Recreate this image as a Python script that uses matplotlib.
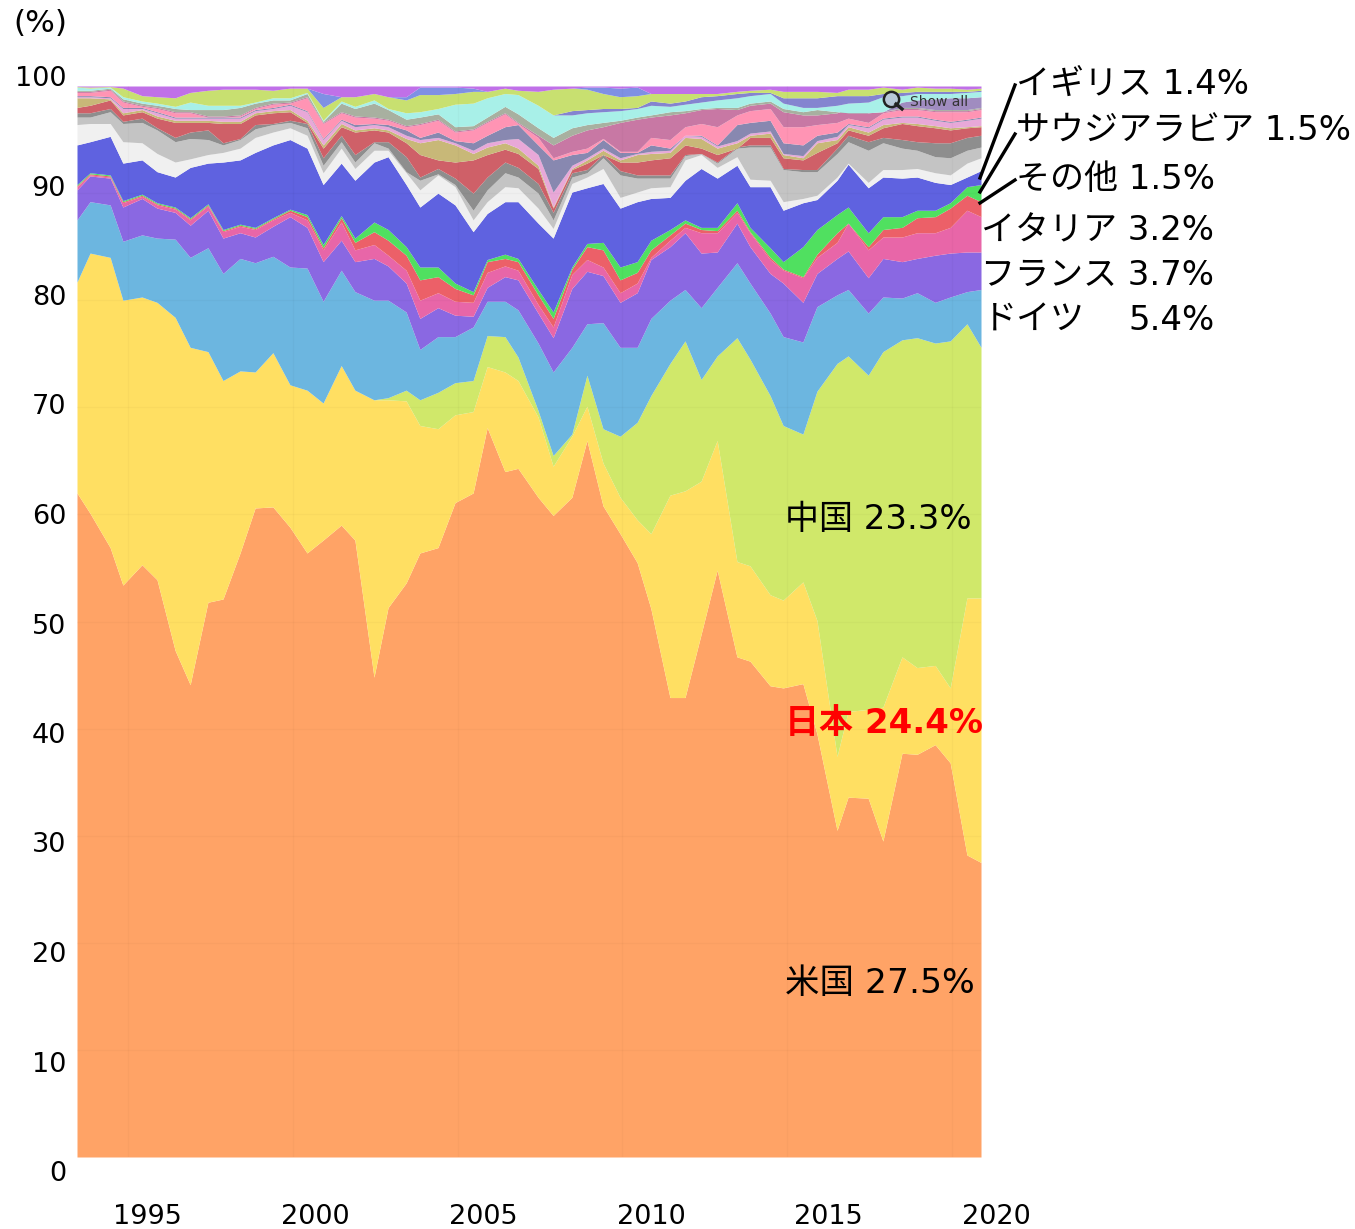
import matplotlib
matplotlib.use('Agg')
import matplotlib.pyplot as plt
from matplotlib.lines import Line2D

plt.rcParams['font.family'] = ['DejaVu Sans', 'Noto Sans CJK JP']

W, H = 1355, 1229

years = [1993.00, 1993.39, 1993.99, 1994.37, 1994.94, 1995.39, 1995.93, 1996.38, 1996.91, 1997.36,
         1997.87, 1998.32, 1998.85, 1999.36, 1999.87, 2000.35, 2000.89, 2001.30, 2001.87, 2002.29,
         2002.83, 2003.24, 2003.78, 2004.29, 2004.83, 2005.25, 2005.78, 2006.17, 2006.77, 2007.22,
         2007.78, 2008.23, 2008.71, 2009.22, 2009.73, 2010.14, 2010.71, 2011.16, 2011.64, 2012.12,
         2012.71, 2013.10, 2013.70, 2014.09, 2014.68, 2015.10, 2015.70, 2016.03, 2016.63, 2017.07,
         2017.64, 2018.09, 2018.63, 2019.08, 2019.58, 2020.00]

# Cumulative share (%) at the top of each band
usa = [62.0, 60.1, 56.9, 53.4, 55.3, 53.9, 47.3, 44.1, 51.8, 52.1,
       56.4, 60.6, 60.7, 58.8, 56.4, 57.6, 59.0, 57.6, 44.8, 51.3,
       53.6, 56.4, 56.9, 61.1, 62.0, 68.1, 64.0, 64.3, 61.6, 59.9,
       61.6, 66.9, 60.8, 58.2, 55.5, 51.2, 42.9, 42.9, 48.8, 54.8,
       46.7, 46.3, 44.0, 43.8, 44.2, 39.5, 30.5, 33.6, 33.5, 29.5,
       37.7, 37.6, 38.5, 36.8, 28.2, 27.5]
japan = [81.7, 84.4, 84.0, 80.0, 80.3, 79.8, 78.4, 75.6, 75.2, 72.5,
         73.4, 73.3, 75.1, 72.1, 71.6, 70.4, 73.9, 71.6, 70.7, 70.7,
         70.6, 68.3, 68.0, 69.3, 69.6, 73.8, 73.3, 72.5, 69.1, 64.5,
         67.3, 70.1, 64.8, 61.6, 59.5, 58.2, 61.8, 62.2, 63.1, 66.9,
         55.6, 55.2, 52.5, 52.0, 53.7, 50.1, 37.4, 41.6, 41.8, 42.0,
         46.7, 45.7, 45.9, 43.8, 52.2, 52.2]
china = [81.7, 84.4, 84.0, 80.0, 80.3, 79.8, 78.4, 75.6, 75.2, 72.5,
         73.4, 73.3, 75.1, 72.1, 71.6, 70.4, 73.9, 71.6, 70.7, 70.9,
         71.6, 70.7, 71.4, 72.3, 72.5, 76.7, 76.6, 74.7, 69.7, 65.5,
         67.5, 73.0, 68.0, 67.3, 68.6, 71.1, 74.1, 76.2, 72.6, 74.8,
         76.5, 74.5, 71.1, 68.3, 67.5, 71.5, 74.1, 74.8, 73.0, 75.2,
         76.3, 76.5, 76.0, 76.2, 77.8, 75.6]
germany = [87.5, 89.2, 88.9, 85.5, 86.1, 85.8, 85.7, 84.0, 84.9, 82.5,
           83.9, 83.5, 84.1, 83.1, 83.0, 79.9, 82.8, 80.8, 80.0, 80.0,
           78.9, 75.4, 76.6, 76.6, 77.5, 79.9, 79.9, 79.1, 76.0, 73.3,
           75.6, 77.8, 77.9, 75.6, 75.6, 78.3, 80.0, 81.0, 79.3, 81.2,
           83.5, 81.6, 78.8, 76.6, 76.1, 79.4, 80.5, 81.0, 78.8, 80.3,
           80.2, 80.7, 79.8, 80.3, 80.8, 81.0]
france = [90.3, 91.6, 91.4, 88.7, 89.5, 88.6, 88.2, 87.0, 88.4, 85.8,
          86.3, 85.9, 86.9, 87.8, 86.8, 83.6, 85.6, 83.6, 83.9, 83.2,
          81.6, 78.3, 79.3, 78.6, 78.5, 81.2, 82.2, 81.9, 78.8, 76.5,
          81.1, 82.7, 82.3, 79.8, 80.7, 83.8, 85.0, 86.3, 84.4, 84.5,
          87.2, 85.0, 82.5, 81.6, 79.8, 82.5, 83.9, 84.6, 82.1, 83.9,
          83.6, 83.9, 84.2, 84.4, 84.5, 84.5]
italy = [90.6, 91.7, 91.5, 89.1, 89.7, 88.9, 88.5, 87.5, 88.8, 86.4,
         86.9, 86.6, 87.5, 88.2, 87.5, 84.7, 87.3, 84.7, 85.2, 84.2,
         82.8, 80.0, 80.7, 79.9, 79.8, 82.6, 83.2, 82.8, 79.6, 77.5,
         82.4, 83.8, 83.1, 80.7, 81.6, 84.0, 85.6, 86.8, 86.3, 86.3,
         88.2, 86.3, 83.8, 82.8, 82.1, 84.0, 85.4, 87.2, 84.7, 85.9,
         85.9, 86.3, 86.3, 86.8, 88.4, 87.8]
red_band = [90.7, 91.8, 91.6, 89.2, 89.8, 89.0, 88.6, 87.6, 88.9, 86.5,
            87.0, 86.7, 87.6, 88.4, 87.8, 84.9, 87.7, 85.4, 86.4, 85.6,
            84.2, 81.9, 82.2, 81.1, 80.5, 83.6, 83.9, 83.6, 80.5, 78.3,
            82.9, 85.0, 84.7, 81.9, 82.6, 84.7, 86.1, 87.2, 86.6, 86.5,
            88.4, 86.4, 84.0, 82.9, 82.2, 84.3, 86.3, 87.2, 85.0, 86.6,
            86.8, 87.7, 87.8, 88.6, 89.8, 89.2]
green_band = [90.8, 91.9, 91.7, 89.3, 89.9, 89.1, 88.7, 87.7, 89.0, 86.6,
              87.1, 86.8, 87.7, 88.5, 88.0, 85.2, 87.9, 85.8, 87.3, 86.6,
              85.0, 83.1, 83.1, 81.6, 80.8, 83.8, 84.3, 83.9, 81.0, 78.9,
              83.1, 85.3, 85.4, 83.1, 83.6, 85.6, 86.6, 87.5, 86.8, 86.8,
              89.1, 86.8, 84.9, 83.6, 85.0, 86.6, 88.0, 88.7, 86.3, 87.8,
              87.8, 88.4, 88.4, 89.1, 90.6, 90.8]
navy_band = [94.5, 94.8, 95.3, 92.8, 93.1, 92.0, 91.5, 92.4, 92.8, 92.9,
             93.1, 93.8, 94.5, 95.0, 94.2, 90.8, 92.8, 91.2, 92.9, 93.4,
             90.8, 88.7, 90.0, 88.9, 86.4, 88.1, 89.2, 89.2, 87.2, 85.8,
             90.1, 90.5, 90.9, 88.6, 89.2, 89.5, 89.6, 91.2, 92.3, 91.4,
             92.6, 90.6, 90.6, 88.4, 89.1, 89.4, 91.2, 92.7, 90.5, 91.5,
             91.4, 91.5, 91.0, 90.8, 91.5, 92.1]
white_band = [96.4, 96.5, 96.5, 94.8, 94.7, 93.7, 92.9, 93.2, 93.6, 93.8,
              94.2, 95.2, 95.7, 96.1, 95.4, 91.9, 94.2, 92.3, 94.0, 94.0,
              91.9, 90.3, 91.7, 90.6, 87.5, 89.2, 90.6, 90.5, 88.6, 86.7,
              90.9, 91.5, 92.3, 89.6, 90.1, 90.5, 90.6, 93.1, 93.6, 92.4,
              93.4, 91.3, 91.2, 89.2, 89.5, 89.8, 91.5, 92.8, 91.0, 92.2,
              92.2, 92.3, 91.9, 91.7, 92.8, 93.3]
lightgray_band = [97.1, 97.1, 97.6, 96.5, 96.6, 95.9, 94.8, 95.1, 95.0, 94.5,
                  95.0, 96.0, 96.4, 96.6, 96.1, 92.6, 94.8, 92.9, 94.7, 94.2,
                  92.0, 91.2, 91.8, 90.8, 88.4, 90.3, 91.9, 91.5, 90.0, 87.5,
                  91.5, 91.9, 93.3, 91.7, 91.4, 91.4, 91.4, 93.5, 93.7, 92.8,
                  94.2, 94.3, 94.3, 92.2, 92.0, 92.0, 93.7, 94.8, 94.0, 94.7,
                  94.2, 94.0, 93.4, 93.3, 94.0, 94.3]
darkgray_band = [97.5, 97.5, 97.9, 96.7, 97.0, 96.1, 95.2, 95.7, 95.9, 94.7,
                 95.1, 96.4, 96.5, 96.8, 96.5, 93.3, 95.4, 93.6, 94.8, 94.8,
                 93.4, 91.5, 92.3, 91.4, 90.0, 91.5, 92.9, 92.4, 90.9, 88.2,
                 91.9, 92.2, 93.6, 92.1, 91.7, 91.7, 91.7, 93.6, 93.7, 92.9,
                 94.3, 94.5, 94.5, 92.3, 92.2, 92.2, 94.2, 95.4, 94.8, 95.2,
                 95.0, 94.8, 94.7, 94.7, 95.2, 95.4]
brick_band = [98.0, 98.2, 98.7, 97.3, 97.6, 97.0, 96.6, 96.6, 96.6, 96.5,
              96.5, 97.3, 97.5, 97.6, 96.6, 94.2, 96.2, 95.7, 95.9, 95.7,
              94.7, 93.6, 93.1, 92.9, 93.1, 93.6, 94.1, 93.7, 92.3, 88.6,
              92.2, 92.8, 93.6, 92.9, 92.9, 93.1, 93.3, 94.5, 94.2, 93.6,
              94.2, 95.2, 95.2, 93.3, 93.1, 93.8, 94.7, 95.9, 95.4, 96.1,
              96.5, 96.3, 96.1, 95.9, 96.1, 96.2]
tan_band = [98.9, 98.9, 98.8, 97.5, 97.8, 97.2, 96.8, 96.8, 96.8, 96.7,
            96.7, 97.5, 97.7, 97.8, 96.8, 94.5, 96.5, 95.9, 96.1, 95.9,
            95.1, 94.7, 95.0, 94.5, 93.7, 94.3, 94.7, 94.2, 92.6, 88.7,
            92.3, 93.1, 94.0, 93.1, 93.6, 93.7, 93.8, 95.2, 95.1, 94.2,
            94.7, 95.4, 95.6, 93.6, 93.3, 94.7, 95.0, 96.2, 95.7, 96.4,
            96.6, 96.5, 96.3, 96.1, 96.2, 96.3]
pale_band = [99.0, 99.0, 98.9, 97.9, 97.9, 97.5, 97.0, 97.0, 97.0, 97.0,
             97.0, 97.7, 97.9, 98.2, 97.6, 95.0, 96.8, 96.2, 96.4, 96.2,
             95.4, 95.0, 95.2, 94.7, 94.0, 94.7, 95.0, 95.1, 93.6, 90.1,
             92.6, 93.3, 94.2, 93.3, 93.7, 93.9, 94.0, 95.4, 95.3, 94.4,
             94.9, 95.6, 95.8, 93.7, 93.5, 94.9, 95.3, 96.4, 96.1, 96.9,
             97.1, 97.1, 96.8, 96.6, 96.8, 97.0]
slate_band = [99.1, 99.1, 99.0, 98.0, 98.0, 97.6, 97.1, 97.1, 97.1, 97.1,
              97.1, 97.8, 98.0, 98.3, 97.7, 95.1, 96.9, 96.4, 96.5, 96.4,
              95.9, 95.2, 95.7, 94.9, 94.7, 95.4, 96.2, 96.4, 94.5, 93.1,
              93.6, 93.8, 95.0, 93.8, 93.8, 94.5, 94.2, 95.4, 95.4, 94.5,
              96.4, 96.6, 96.8, 94.7, 94.5, 95.4, 95.7, 96.5, 96.2, 97.0,
              97.2, 97.2, 96.9, 96.7, 96.9, 97.1]
hotpink_band = [99.4, 99.4, 99.6, 98.5, 98.1, 97.9, 97.5, 97.5, 97.1, 97.1,
                97.2, 97.9, 98.3, 98.4, 98.9, 96.5, 97.5, 97.1, 97.0, 96.8,
                96.2, 96.4, 96.8, 95.7, 95.9, 96.6, 97.4, 96.5, 95.2, 93.3,
                93.9, 94.2, 95.1, 93.9, 93.9, 95.2, 95.0, 96.2, 96.5, 96.2,
                97.3, 97.7, 97.9, 96.2, 96.2, 96.4, 96.6, 97.0, 96.6, 97.5,
                97.8, 97.8, 97.6, 97.6, 97.6, 97.8]
mauve_band = [99.5, 99.5, 99.7, 98.6, 98.2, 98.0, 97.6, 97.6, 97.2, 97.2,
              97.3, 98.0, 98.4, 98.5, 99.0, 96.6, 97.6, 97.2, 97.1, 96.9,
              96.3, 96.5, 96.9, 95.8, 96.0, 96.7, 97.5, 96.6, 95.4, 94.5,
              95.4, 95.9, 96.2, 96.6, 96.9, 97.1, 97.3, 97.5, 97.8, 97.9,
              97.8, 98.2, 98.4, 97.6, 97.3, 97.3, 97.5, 97.9, 97.5, 97.6,
              97.9, 97.9, 97.7, 97.7, 97.7, 97.9]
sage_band = [99.6, 99.6, 99.8, 98.8, 98.4, 98.2, 97.9, 97.8, 97.8, 97.8,
             98.0, 98.4, 98.7, 98.7, 99.3, 96.7, 98.4, 97.9, 98.4, 97.8,
             96.9, 97.1, 97.4, 96.2, 96.3, 97.1, 98.1, 97.4, 96.1, 95.2,
             96.1, 96.4, 96.6, 96.8, 97.1, 97.3, 97.6, 97.7, 97.9, 98.0,
             98.0, 98.4, 98.6, 97.9, 97.6, 97.8, 97.6, 97.5, 97.5, 97.6,
             98.0, 98.0, 97.8, 97.8, 97.8, 98.0]
# only shows at the right end, under the cyan band
plum_band = sage_band[:50] + [98.5, 98.7, 98.8, 98.9, 98.9, 99.0]
cyan_band = [99.9, 99.8, 99.9, 99.0, 98.6, 98.4, 98.1, 98.5, 98.2, 98.2,
             98.2, 98.5, 98.9, 98.9, 99.4, 96.8, 98.6, 98.1, 98.7, 97.9,
             97.5, 97.6, 97.9, 98.3, 98.4, 98.9, 99.3, 99.2, 98.2, 97.3,
             97.3, 97.5, 97.6, 97.7, 97.9, 98.2, 98.1, 98.3, 98.5, 98.7,
             98.9, 99.1, 99.3, 98.4, 98.0, 98.0, 98.2, 98.4, 98.5, 99.0,
             99.1, 99.3, 99.3, 99.3, 99.4, 99.5]
peri_band = [99.9, 99.8, 99.9, 99.0, 98.6, 98.4, 98.1, 98.5, 98.2, 98.2,
             98.2, 98.5, 98.9, 98.9, 99.4, 96.8, 98.6, 98.1, 98.7, 97.9,
             97.5, 97.6, 97.9, 98.3, 98.4, 98.9, 99.3, 99.2, 98.2, 97.3,
             97.7, 97.8, 97.9, 97.9, 98.0, 98.6, 98.4, 98.6, 99.0, 99.1,
             99.3, 99.4, 99.4, 98.9, 98.9, 98.9, 99.1, 99.1, 99.1, 99.3,
             99.4, 99.5, 99.5, 99.5, 99.5, 99.6]
lime_band = [99.95, 99.9, 99.95, 99.8, 99.1, 99.0, 98.9, 99.4, 99.6, 99.7,
             99.7, 99.7, 99.6, 99.8, 99.8, 98.0, 99.0, 99.0, 99.3, 99.0,
             98.7, 99.2, 99.2, 99.3, 99.5, 99.5, 99.8, 99.6, 99.5, 99.7,
             99.8, 99.7, 99.3, 99.0, 99.1, 99.3, 99.3, 99.3, 99.3, 99.3,
             99.5, 99.6, 99.7, 99.5, 99.5, 99.5, 99.4, 99.7, 99.7, 99.9,
             99.7, 99.9, 99.8, 99.8, 99.7, 99.8]
blue_band = [99.95, 99.9, 99.95, 99.8, 99.1, 99.0, 98.9, 99.4, 99.6, 99.7,
             99.7, 99.7, 99.6, 99.8, 99.8, 99.3, 99.0, 99.0, 99.3, 99.0,
             99.0, 99.9, 99.9, 99.9, 99.8, 99.5, 99.8, 99.6, 99.5, 99.7,
             99.8, 99.9, 99.9, 99.8, 99.9, 99.3, 99.3, 99.3, 99.3, 99.3,
             99.5, 99.6, 99.7, 99.5, 99.5, 99.5, 99.4, 99.7, 99.7, 99.9,
             99.7, 99.9, 99.8, 99.8, 99.7, 99.8]
violet_band = [100.0] * len(years)

bands = [usa, japan, china, germany, france, italy, red_band, green_band, navy_band,
         white_band, lightgray_band, darkgray_band, brick_band, tan_band, pale_band,
         slate_band, hotpink_band, mauve_band, sage_band, plum_band, cyan_band, peri_band,
         lime_band, blue_band, violet_band]
colors = ['#FFA366', '#FFDF62', '#D0E86A', '#6CB6E0', '#8A68E2', '#E866A8', '#EC6068', '#50E060',
          '#5F62E0', '#F0F0F0', '#C4C4C4', '#8E8E8E', '#CF6068', '#C8B878', '#E8A8D8', '#8888B0',
          '#FF94B4', '#C878A4', '#A8B0A0', '#A08CC0', '#A8F0E8', '#8484D0', '#C8E070', '#7F90E4', '#C070E8']

ytick_labels = ['0', '10', '20', '30', '40', '50', '60', '70', '80', '90', '100']
xtick_labels = ['1995', '2000', '2005', '2010', '2015', '2020']
grid_years = [1994.52, 1999.45, 2004.38, 2009.28, 2014.21, 2019.13]


def px(x, y):
    return x / W, 1 - y / H


def label(x, y, s, size=24.5, **kw):
    fx, fy = px(x, y + 3)
    fig.text(fx, fy, s, fontsize=size, va='center', **kw)


fig = plt.figure(figsize=(W / 100, H / 100), dpi=100)
ax = fig.add_axes([77 / W, 1 - 1157 / H, 904 / W, 1071 / H])

lower = [0.0] * len(years)
for top, c in zip(bands, colors):
    ax.fill_between(years, lower, top, color=c, lw=0)
    lower = top

# faint grid of the underlying chart
for v in range(10, 100, 10):
    ax.axhline(v, color='k', alpha=0.025, lw=1)
for g in grid_years:
    ax.axvline(g, color='k', alpha=0.025, lw=1)

ax.set_xlim(1993, 2020)
ax.set_ylim(0, 100)
ax.axis('off')

# the tick labels sit on their own slightly wider spacing
for i, s in enumerate(ytick_labels):
    fx, fy = px(66, 1174 - i * 109.5)
    fig.text(fx, fy, s, fontsize=19.5, ha='right', va='center')
for s, x in zip(xtick_labels, [147, 315, 483, 651, 828, 996]):
    fx, fy = px(x, 1217)
    fig.text(fx, fy, s, fontsize=19.5, ha='center', va='center')
label(13, 21, '(%)', size=22.5)

label(1016, 81, 'イギリス 1.4%')
label(1016, 128, 'サウジアラビア 1.5%')
label(1016, 176, 'その他 1.5%')
label(981, 228, 'イタリア 3.2%')
label(981, 272, 'フランス 3.7%')
label(983, 317, 'ドイツ')
label(1128, 317, '5.4%')
label(785, 517, '中国 23.3%')
label(785, 721, '日本 24.4%', color='#FF0000', fontweight='bold')
label(785, 981, '米国 27.5%', size=24.8)

for a, b in [((980, 178), (1015, 85)), ((980, 192), (1015, 134)), ((980, 203), (1015, 180))]:
    fig.add_artist(Line2D([a[0] / W, b[0] / W], [1 - a[1] / H, 1 - b[1] / H], color='k', lw=2.4))

# zoom icon and reset text left in the screenshot
fig.add_artist(Line2D([891 / W], [1 - 99 / H], marker='o', ms=11, mfc='#B8C8D8', mec='#222222', mew=1.8, ls='none'))
fig.add_artist(Line2D([896 / W, 902 / W], [1 - 104 / H, 1 - 109 / H], color='#222222', lw=2.4))
label(910, 99, 'Show all', size=10, color='#333333')

fig.savefig('out.png', dpi=100)
